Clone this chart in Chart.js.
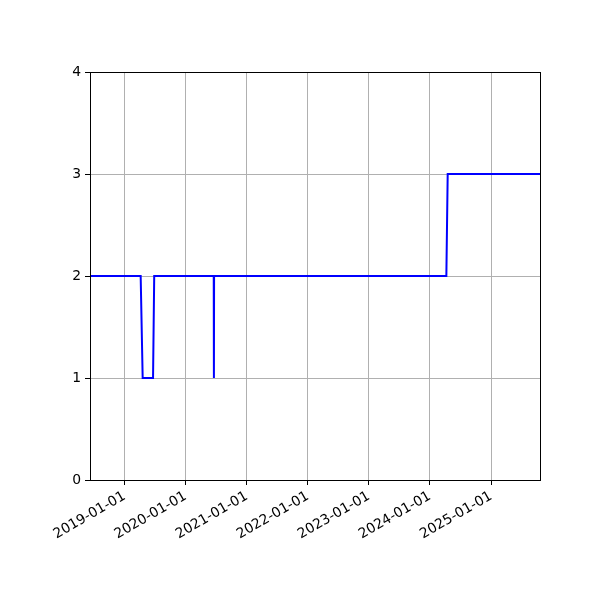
<!DOCTYPE html>
<html>
<head>
<meta charset="utf-8">
<script src="https://cdn.jsdelivr.net/npm/chart.js@4"></script>
<style>
  html, body { margin: 0; padding: 0; background: #fff; }
</style>
</head>
<body>
<canvas id="grafico" width="600" height="600"></canvas>
<script>
// data
const datas = ['2018-06-08', '2019-04-07', '2019-04-19', '2019-06-20', '2019-06-27',
               '2020-06-17', '2020-06-18', '2020-06-19', '2024-04-08', '2024-04-16', '2025-10-20'];
const valores = [2, 2, 1, 1, 2, 2, 1, 2, 2, 3, 3];
const anosTicks = ['2019-01-01', '2020-01-01', '2021-01-01', '2022-01-01',
                   '2023-01-01', '2024-01-01', '2025-01-01'];
const xMin = '2018-06-08';
const xMax = '2025-10-20';

const pontos = datas.map((d, i) => ({x: Date.parse(d), y: valores[i]}));
const fonte = {family: 'DejaVu Sans', size: 13.9};

// moldura de cima e da direita
const moldura = {
    id: 'moldura',
    afterDraw(chart) {
        const a = chart.chartArea;
        const ctx = chart.ctx;
        ctx.save();
        ctx.strokeStyle = '#000';
        ctx.lineWidth = 1;
        ctx.strokeRect(Math.round(a.left) + 0.5, Math.round(a.top) + 0.5,
                       Math.round(a.right - a.left), Math.round(a.bottom - a.top));
        ctx.restore();
    }
};

const ctx = document.getElementById('grafico').getContext('2d');
new Chart(ctx, {
    type: 'line',
    data: {
        datasets: [{
            data: pontos,
            borderColor: 'blue',
            borderWidth: 2,
            pointRadius: 0,
            tension: 0,
            fill: false
        }]
    },
    options: {
        responsive: false,
        animation: false,
        plugins: {legend: {display: false}, tooltip: {enabled: false}},
        layout: {padding: {top: 72, right: 60, left: 0, bottom: 0}},
        scales: {
            x: {
                type: 'linear',
                min: Date.parse(xMin),
                max: Date.parse(xMax),
                afterBuildTicks: s => { s.ticks = anosTicks.map(t => ({value: Date.parse(t)})); },
                afterFit: s => { s.height = 120; },
                grid: {color: '#b0b0b0', lineWidth: 1, tickColor: '#000', tickLength: 5},
                border: {color: '#000', width: 1},
                ticks: {
                    color: '#000',
                    font: fonte,
                    padding: 3,
                    autoSkip: false,
                    minRotation: 30,
                    maxRotation: 30,
                    callback: v => new Date(v).toISOString().slice(0, 10)
                }
            },
            y: {
                min: 0,
                max: 4,
                afterFit: s => { s.width = 90; },
                grid: {color: '#b0b0b0', lineWidth: 1, tickColor: '#000', tickLength: 5},
                border: {color: '#000', width: 1},
                ticks: {color: '#000', font: fonte, stepSize: 1, padding: 4}
            }
        }
    },
    plugins: [moldura]
});
</script>
</body>
</html>
